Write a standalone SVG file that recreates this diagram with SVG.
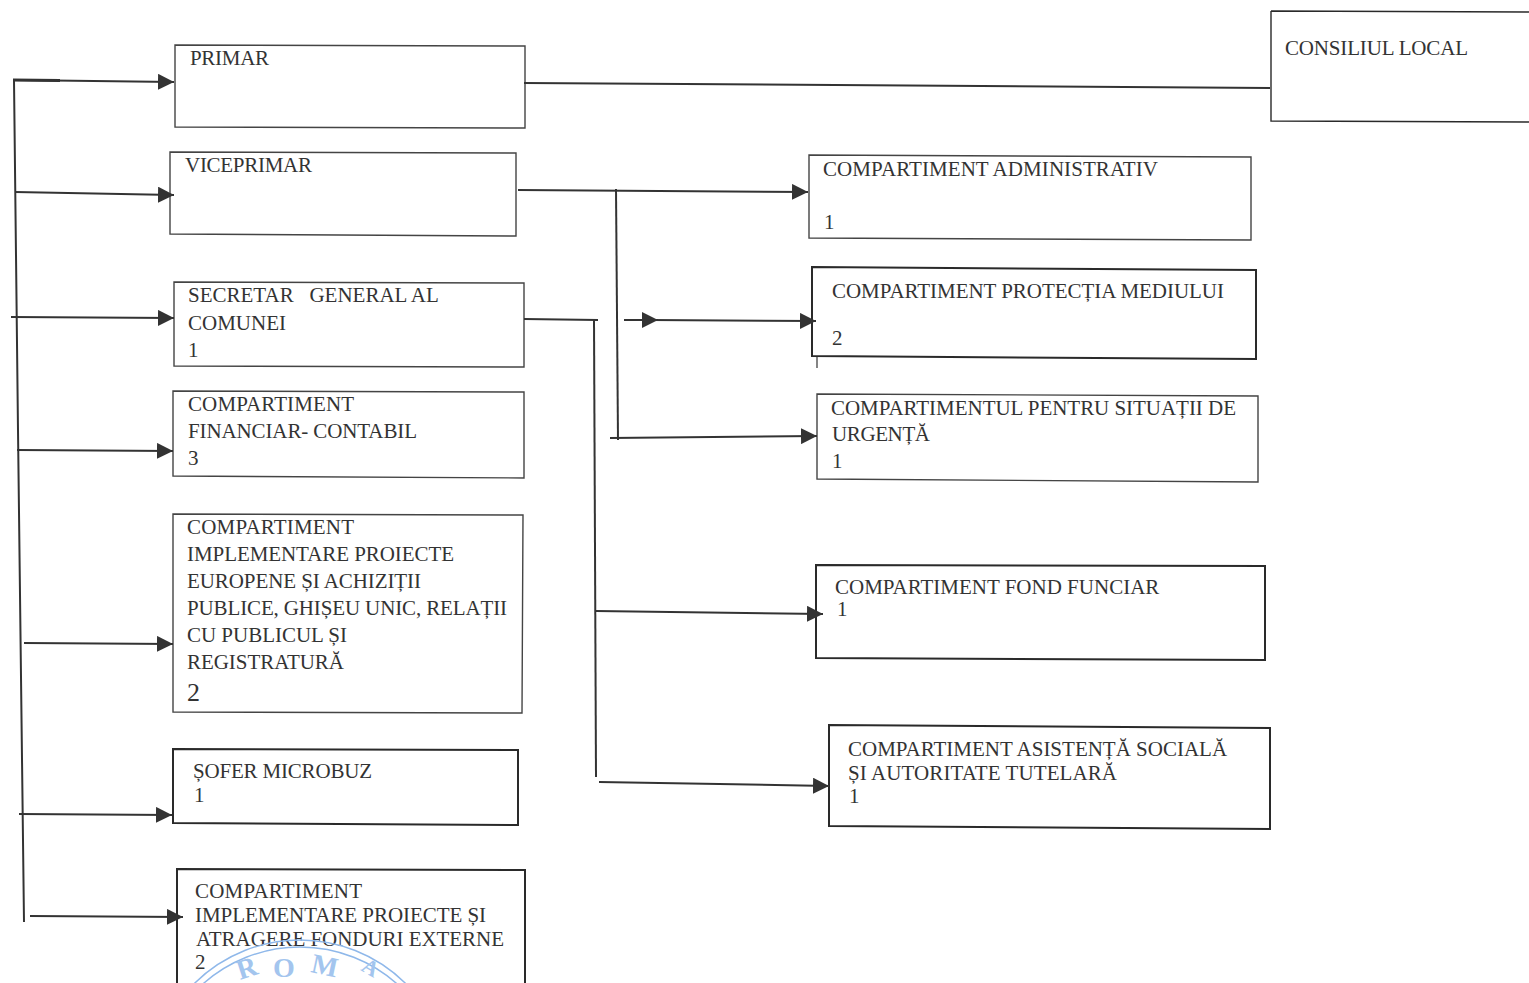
<svg xmlns="http://www.w3.org/2000/svg" width="1529" height="983" viewBox="0 0 1529 983">
<style>
.b{fill:#fff;stroke:#444;stroke-width:1.4}
.k{fill:#fff;stroke:#2a2a2a;stroke-width:2}
.t{font-family:"Liberation Serif","Times New Roman",serif;font-size:21px;fill:#333}
.l{fill:none;stroke:#333;stroke-width:2}
.h{fill:#333}
.s{fill:none;stroke:#8fb8ea;stroke-width:1.5}
.st{font-family:"Liberation Serif",serif;font-size:28px;font-weight:bold;fill:#a3c5ee}
</style>
<defs><marker id="a" markerWidth="18" markerHeight="16" refX="16" refY="8" orient="auto" markerUnits="userSpaceOnUse"><path class="h" d="M0 0L16 8L0 16Z"/></marker></defs>
<rect width="1529" height="983" fill="#fff"/>
<g id="n1"><path class="b" d="M175 45L525 46L525 128L175 127Z"/><text class="t" x="190" y="65" textLength="79">PRIMAR</text></g>
<g id="n2"><path class="k" style="stroke-width:1.4" d="M1271 11L1529 12M1529 122L1271 121L1271 11"/><text class="t" x="1285" y="55" textLength="183">CONSILIUL LOCAL</text></g>
<g id="n3"><path class="b" d="M170 152L516 153L516 236L170 234Z"/><text class="t" x="185" y="172" textLength="127">VICEPRIMAR</text></g>
<g id="n4"><path class="b" d="M809 155L1251 157L1251 240L809 238Z"/><text class="t" x="823" y="176" textLength="335">COMPARTIMENT ADMINISTRATIV</text><text class="t" x="824" y="229">1</text></g>
<g id="n5"><path class="b" d="M174 282L524 283L524 367L174 366Z"/><text class="t" x="188" y="302" xml:space="preserve">SECRETAR   GENERAL AL</text><text class="t" x="188" y="330">COMUNEI</text><text class="t" x="188" y="357">1</text></g>
<g id="n6"><path class="k" d="M812 267L1256 270L1256 359L812 356Z"/><text class="t" x="832" y="298" textLength="392">COMPARTIMENT PROTECȚIA MEDIULUI</text><text class="t" x="832" y="345">2</text></g>
<g id="n7"><path class="b" d="M173 391L524 392L524 478L173 476Z"/><text class="t" x="188" y="411" textLength="166">COMPARTIMENT</text><text class="t" x="188" y="438" textLength="229">FINANCIAR- CONTABIL</text><text class="t" x="188" y="465">3</text></g>
<g id="n8"><path class="b" d="M817 394L1258 396L1258 482L817 479Z"/><text class="t" x="831" y="415" textLength="405">COMPARTIMENTUL PENTRU SITUAȚII DE</text><text class="t" x="832" y="441" textLength="98">URGENȚĂ</text><text class="t" x="832" y="468">1</text></g>
<g id="n9"><path class="b" d="M173 514L523 515L522 713L173 712Z"/><text class="t" x="187" y="534" textLength="167">COMPARTIMENT</text><text class="t" x="187" y="561" textLength="267">IMPLEMENTARE PROIECTE</text><text class="t" x="187" y="588" textLength="234">EUROPENE ȘI ACHIZIȚII</text><text class="t" x="187" y="615" textLength="320">PUBLICE, GHIȘEU UNIC, RELAȚII</text><text class="t" x="187" y="642" textLength="160">CU PUBLICUL ȘI</text><text class="t" x="187" y="669" textLength="157">REGISTRATURĂ</text><text class="t" x="187" y="701" style="font-size:26px">2</text></g>
<g id="n10"><path class="k" d="M816 565L1265 566L1265 660L816 658Z"/><text class="t" x="835" y="594">COMPARTIMENT FOND FUNCIAR</text><text class="t" x="837" y="616">1</text></g>
<g id="n11"><path class="k" d="M829 725L1270 728L1270 829L829 826Z"/><text class="t" x="848" y="756">COMPARTIMENT ASISTENȚĂ SOCIALĂ</text><text class="t" x="848" y="780" textLength="269">ȘI AUTORITATE TUTELARĂ</text><text class="t" x="849" y="803">1</text></g>
<g id="n12"><path class="k" d="M173 749L518 750L518 825L173 823Z"/><text class="t" x="193" y="778" textLength="179">ȘOFER MICROBUZ</text><text class="t" x="194" y="802">1</text></g>
<g id="n13"><path class="k" d="M525 983L525 870L177 869L177 983"/><text class="t" x="195" y="898" textLength="167">COMPARTIMENT</text><text class="t" x="195" y="922" textLength="291">IMPLEMENTARE PROIECTE ȘI</text><text class="t" x="196" y="946" textLength="308">ATRAGERE FONDURI EXTERNE</text><text class="t" x="195" y="969">2</text></g>
<g id="stamp"><circle class="s" cx="300" cy="1090" r="150"/><circle class="s" cx="300" cy="1093" r="146"/><text class="st" x="240" y="980" transform="rotate(-18 240 980)">R</text><text class="st" x="273" y="977">O</text><text class="st" x="310" y="972" transform="rotate(12 310 972)">M</text><text class="st" x="360" y="970" style="font-size:22px" transform="rotate(30 360 970)">A</text></g>
<g id="connectors">
<path class="l" style="stroke-width:3" d="M13 80L60 80.5"/>
<path class="l" marker-end="url(#a)" d="M13 80L174 82"/>
<path class="l" d="M14 80L18 430L24 922"/>
<path class="l" marker-end="url(#a)" d="M15 192L174 195"/>
<path class="l" marker-end="url(#a)" d="M11 317L174 318"/>
<path class="l" marker-end="url(#a)" d="M17 450L173 451"/>
<path class="l" marker-end="url(#a)" d="M24 643L173 644"/>
<path class="l" marker-end="url(#a)" d="M19 814L172 815"/>
<path class="l" marker-end="url(#a)" d="M30 916L183 917"/>
<path class="l" d="M524 83L1270 88"/>
<path class="l" marker-end="url(#a)" d="M518 190L808 192"/>
<path class="l" d="M616 189L618 440"/>
<path class="l" marker-end="url(#a)" d="M624 320L658 320"/>
<path class="l" marker-end="url(#a)" d="M650 320L816 321"/>
<path class="l" marker-end="url(#a)" d="M610 438L817 436"/>
<path class="l" d="M817 357L817 368" style="stroke-width:1.2"/>
<path class="l" d="M524 319L598 320"/>
<path class="l" d="M594 320L596 777"/>
<path class="l" marker-end="url(#a)" d="M596 611L823 614"/>
<path class="l" marker-end="url(#a)" d="M599 782L829 786"/>
</g>
</svg>
